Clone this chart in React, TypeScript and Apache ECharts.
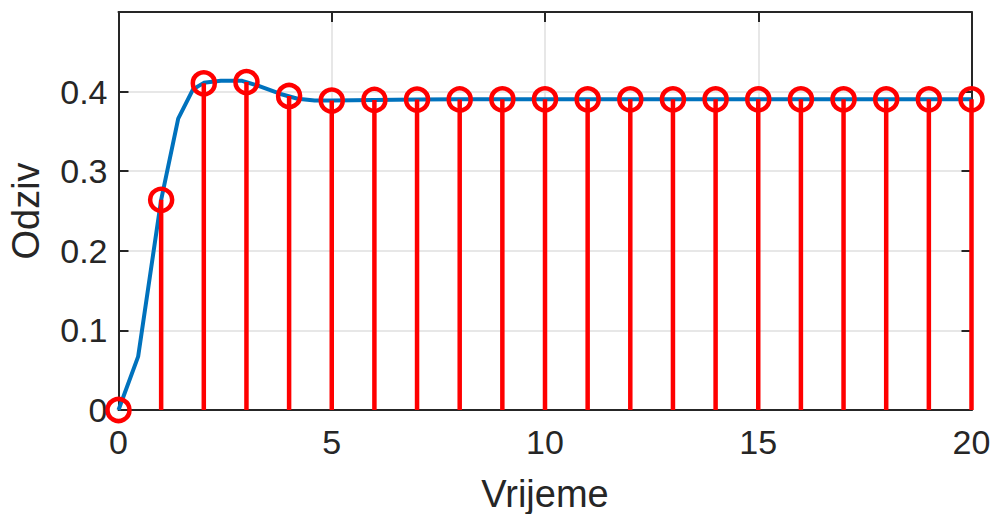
import React, { useEffect, useRef } from "react";
import * as echarts from "echarts";

// Continuous response (blue line): time and value
const lineT = [0, 0.46, 1.0, 1.4, 1.75, 2.0, 2.4, 2.9, 3.3, 3.8, 4.2, 4.6, 5.0, 6, 7, 8, 9, 10, 11, 12, 13, 14, 15, 16, 17, 18, 19, 20];
const lineV = [0, 0.067, 0.264, 0.366, 0.403, 0.411, 0.4135, 0.4135, 0.407, 0.397, 0.391, 0.3887, 0.3888, 0.3896, 0.3901, 0.3903, 0.3903, 0.3903, 0.3903, 0.3903, 0.3903, 0.3903, 0.3903, 0.3903, 0.3903, 0.3903, 0.3903, 0.3903];

// Discrete response (red stems) at integer samples k = 0..20
const stemK = [0, 1, 2, 3, 4, 5, 6, 7, 8, 9, 10, 11, 12, 13, 14, 15, 16, 17, 18, 19, 20];
const stemV = [0, 0.264, 0.4104, 0.412, 0.3945, 0.3887, 0.3896, 0.3900, 0.3902, 0.3903, 0.3903, 0.3903, 0.3903, 0.3903, 0.3903, 0.3903, 0.3903, 0.3903, 0.3903, 0.3903, 0.3903];

const xLabel = "Vrijeme";
const yLabel = "Odziv";

export default function App() {
  const ref = useRef<HTMLDivElement>(null);
  useEffect(() => {
    if (!ref.current) return;
    const chart = echarts.init(ref.current, null, { renderer: "svg" });
    const axisColor = "#262626";
    const font = "Liberation Sans, Arial, Helvetica, sans-serif";
    const gridColor = "#dfdfdf";
    const tick = { show: true, inside: true, length: 10, lineStyle: { color: axisColor, width: 2 } };
    const line = { show: true, onZero: false, lineStyle: { color: axisColor, width: 2 } };
    const option: any = {
      animation: false,
      backgroundColor: "#ffffff",
      grid: { left: 118.5, right: 18.5, top: 12, bottom: 104, containLabel: false, outerBoundsMode: "none" },
      xAxis: [
        {
          type: "value",
          min: 0,
          max: 20,
          interval: 5,
          name: xLabel,
          nameLocation: "middle",
          nameGap: 65,
          nameTextStyle: { fontFamily: font, fontSize: 38, color: axisColor },
          axisLine: line,
          axisTick: tick,
          axisLabel: { fontFamily: font, fontSize: 34, color: axisColor, margin: 15 },
          splitLine: { show: true, lineStyle: { color: gridColor, width: 1.5 } },
        },
        {
          type: "value",
          position: "top",
          min: 0,
          max: 20,
          interval: 5,
          axisLine: line,
          axisTick: tick,
          axisLabel: { show: false },
          splitLine: { show: false },
        },
      ],
      yAxis: [
        {
          type: "value",
          min: 0,
          max: 0.5,
          interval: 0.1,
          name: yLabel,
          nameLocation: "middle",
          nameGap: 74,
          nameRotate: 90,
          nameTextStyle: { fontFamily: font, fontSize: 38, color: axisColor },
          axisLine: line,
          axisTick: tick,
          axisLabel: {
            fontFamily: font,
            fontSize: 34,
            color: axisColor,
            margin: 11,
            formatter: (v: number) => (v > 0.45 ? "" : v === 0 ? "0" : v.toFixed(1)),
          },
          splitLine: { show: true, lineStyle: { color: gridColor, width: 1.5 } },
        },
        {
          type: "value",
          position: "right",
          min: 0,
          max: 0.5,
          interval: 0.1,
          axisLine: line,
          axisTick: tick,
          axisLabel: { show: false },
          splitLine: { show: false },
        },
      ],
      series: [
        {
          type: "line",
          data: lineT.map((t, i) => [t, lineV[i]]),
          showSymbol: false,
          symbol: "none",
          lineStyle: { color: "#0072BD", width: 4 },
          z: 2,
        },
        {
          type: "custom",
          data: stemK.map((k, i) => [k, stemV[i]]),
          clip: false,
          renderItem: (params: any, api: any) => {
            const p0 = api.coord([api.value(0), 0]);
            const p1 = api.coord([api.value(0), api.value(1)]);
            return {
              type: "line",
              shape: { x1: p0[0], y1: p0[1], x2: p1[0], y2: p1[1] },
              style: { stroke: "#ff0000", lineWidth: 4.5 },
            };
          },
          z: 3,
        },
        {
          type: "scatter",
          data: stemK.map((k, i) => [k, stemV[i]]),
          symbol: "circle",
          symbolSize: 22,
          clip: false,
          itemStyle: { color: "rgba(0,0,0,0)", borderColor: "#ff0000", borderWidth: 4.5, opacity: 1 },
          z: 4,
        },
      ],
    };
    chart.setOption(option);
    return () => chart.dispose();
  }, []);
  return <div ref={ref} style={{ width: 990, height: 514, position: "absolute", left: 0, top: 0 }} />;
}
